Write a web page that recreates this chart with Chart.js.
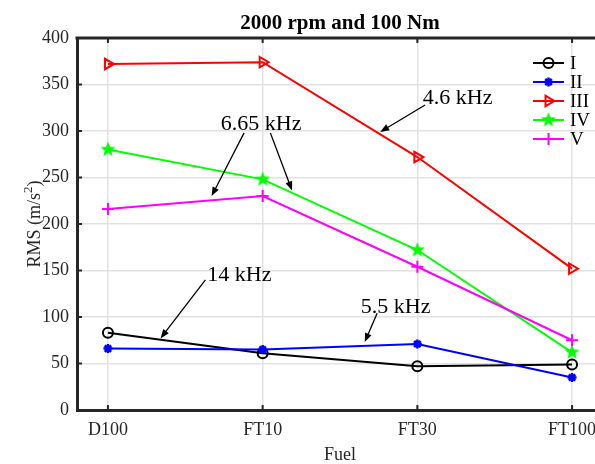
<!DOCTYPE html>
<html>
<head>
<meta charset="utf-8">
<script src="https://cdn.jsdelivr.net/npm/chart.js@4"></script>
<style>
    html, body { margin: 0; padding: 0; background: #fff; overflow: hidden; }
    #wrap { width: 615px; height: 464px; }
</style>
</head>
<body>
<div id="wrap"><canvas id="rmsChart" width="615" height="464"></canvas></div>
<script>
// data
const fuels = ['D100', 'FT10', 'FT30', 'FT100'];
const seriesNames = ['I', 'II', 'III', 'IV', 'V'];
const rmsI = [83, 61, 47, 49];
const rmsII = [66, 65, 71, 35];
const rmsIII = [372, 374, 272, 152];
const rmsIV = [280, 248, 172, 62];
const rmsV = [216, 230, 154, 75];
const yTicks = [0, 50, 100, 150, 200, 250, 300, 350, 400];

// annotations: label, text position, arrows [from, to] in data units
const notes = [
    { text: '4.6 kHz', at: [3.26, 335], arrows: [[[3.05, 328], [2.76, 299]]] },
    { text: '6.65 kHz', at: [1.99, 307], arrows: [[[1.88, 298], [1.67, 230]], [[2.05, 298], [2.19, 236]]] },
    { text: '14 kHz', at: [1.85, 145], arrows: [[[1.63, 140], [1.34, 77]]] },
    { text: '5.5 kHz', at: [2.86, 111], arrows: [[[2.74, 104], [2.66, 73]]] }
];

const serif = "'Liberation Serif', 'Times New Roman', serif";
const axisColor = '#262626';

// filled pentagram marker (MATLAB 'p')
function pentagram(color, r) {
    const c = document.createElement('canvas');
    const s = Math.ceil(r * 2 + 2);
    c.width = s; c.height = s;
    const g = c.getContext('2d');
    g.beginPath();
    for (let i = 0; i < 10; i++) {
        const rad = i % 2 === 0 ? r : r * 0.42;
        const a = -Math.PI / 2 + i * Math.PI / 5;
        const px = s / 2 + rad * Math.cos(a), py = s / 2 + rad * Math.sin(a);
        if (i === 0) g.moveTo(px, py); else g.lineTo(px, py);
    }
    g.closePath();
    g.fillStyle = color;
    g.fill();
    return c;
}

function toPoints(arr) {
    return arr.map((v, i) => ({ x: i + 1, y: v }));
}

const styles = [
    { color: '#000000', pointStyle: 'circle', radius: 5, bw: 2, fill: 'rgba(0,0,0,0)', rot: 0 },
    { color: '#0000ff', pointStyle: 'star', radius: 4.5, bw: 2.5, fill: '#0000ff', rot: 0 },
    { color: '#ff0000', pointStyle: 'triangle', radius: 6, bw: 2, fill: 'rgba(0,0,0,0)', rot: 90 },
    { color: '#00ff00', pointStyle: pentagram('#00ff00', 8), radius: 8, bw: 1, fill: '#00ff00', rot: 0 },
    { color: '#ff00ff', pointStyle: 'cross', radius: 6, bw: 2, fill: '#ff00ff', rot: 0 }
];
const allSeries = [rmsI, rmsII, rmsIII, rmsIV, rmsV];

const datasets = allSeries.map((arr, i) => ({
    label: seriesNames[i],
    data: toPoints(arr),
    borderColor: styles[i].color,
    backgroundColor: styles[i].fill,
    borderWidth: 2,
    pointStyle: styles[i].pointStyle,
    pointRadius: styles[i].radius,
    pointRotation: styles[i].rot,
    pointBorderWidth: styles[i].bw,
    pointBorderColor: styles[i].color,
    pointBackgroundColor: styles[i].fill,
    tension: 0,
    fill: false,
    order: allSeries.length - i
}));

// frame, inward ticks, titles, legend and arrows
const matlabLook = {
    id: 'matlabLook',
    afterDraw(chart) {
        const { ctx, chartArea: a, scales } = chart;
        const xs = scales.x, ys = scales.y;
        ctx.save();

        // top border and inward ticks
        ctx.strokeStyle = axisColor;
        ctx.lineWidth = 3;
        ctx.beginPath();
        ctx.moveTo(a.left - 1.5, a.top);
        ctx.lineTo(a.right, a.top);
        ctx.stroke();
        ctx.lineWidth = 2;
        ctx.beginPath();
        fuels.forEach((f, i) => {
            const px = xs.getPixelForValue(i + 1);
            ctx.moveTo(px, a.bottom); ctx.lineTo(px, a.bottom - 5);
            ctx.moveTo(px, a.top); ctx.lineTo(px, a.top + 5);
        });
        yTicks.forEach(v => {
            const py = ys.getPixelForValue(v);
            ctx.moveTo(a.left, py); ctx.lineTo(a.left + 5, py);
        });
        ctx.stroke();

        // title
        ctx.fillStyle = '#000';
        ctx.font = 'bold 21px ' + serif;
        ctx.textAlign = 'center';
        ctx.textBaseline = 'alphabetic';
        ctx.fillText('2000 rpm and 100 Nm', (a.left + a.right) / 2, 29);

        // y title with a real superscript
        ctx.save();
        ctx.translate(40, (a.top + a.bottom) / 2);
        ctx.rotate(-Math.PI / 2);
        ctx.fillStyle = axisColor;
        ctx.font = '18px ' + serif;
        ctx.textAlign = 'left';
        const main = 'RMS (m/s', sup = '2', tail = ')';
        const wMain = ctx.measureText(main).width;
        ctx.font = '13px ' + serif;
        const wSup = ctx.measureText(sup).width;
        ctx.font = '18px ' + serif;
        const wTail = ctx.measureText(tail).width;
        let tx = -(wMain + wSup + wTail) / 2;
        ctx.fillText(main, tx, 0);
        ctx.font = '13px ' + serif;
        ctx.fillText(sup, tx + wMain, -8);
        ctx.font = '18px ' + serif;
        ctx.fillText(tail, tx + wMain + wSup, 0);
        ctx.restore();

        // annotations
        ctx.font = '22px ' + serif;
        ctx.textAlign = 'center';
        ctx.textBaseline = 'middle';
        notes.forEach(n => {
            ctx.fillStyle = '#000';
            ctx.fillText(n.text, xs.getPixelForValue(n.at[0]), ys.getPixelForValue(n.at[1]));
            n.arrows.forEach(([p0, p1]) => {
                const x0 = xs.getPixelForValue(p0[0]), y0 = ys.getPixelForValue(p0[1]);
                const x1 = xs.getPixelForValue(p1[0]), y1 = ys.getPixelForValue(p1[1]);
                const ang = Math.atan2(y1 - y0, x1 - x0);
                const hl = 9, hw = 3.5;
                ctx.strokeStyle = '#000';
                ctx.lineWidth = 1.3;
                ctx.beginPath();
                ctx.moveTo(x0, y0);
                ctx.lineTo(x1 - hl * 0.8 * Math.cos(ang), y1 - hl * 0.8 * Math.sin(ang));
                ctx.stroke();
                ctx.beginPath();
                ctx.moveTo(x1, y1);
                ctx.lineTo(x1 - hl * Math.cos(ang) + hw * Math.sin(ang), y1 - hl * Math.sin(ang) - hw * Math.cos(ang));
                ctx.lineTo(x1 - hl * Math.cos(ang) - hw * Math.sin(ang), y1 - hl * Math.sin(ang) + hw * Math.cos(ang));
                ctx.closePath();
                ctx.fillStyle = '#000';
                ctx.fill();
            });
        });

        // legend
        ctx.font = '19px ' + serif;
        ctx.textAlign = 'left';
        seriesNames.forEach((name, i) => {
            const st = styles[i];
            const ly = 63 + i * 19;
            ctx.strokeStyle = st.color;
            ctx.lineWidth = 2;
            ctx.beginPath();
            ctx.moveTo(533, ly); ctx.lineTo(564, ly);
            ctx.stroke();
            ctx.fillStyle = st.fill;
            ctx.lineWidth = st.bw;
            Chart.helpers.drawPoint(ctx, {
                pointStyle: st.pointStyle, radius: st.radius, rotation: st.rot, borderWidth: st.bw
            }, 548.5, ly);
            ctx.fillStyle = '#000';
            ctx.fillText(name, 570, ly + 1);
        });
        ctx.restore();
    }
};

const ctx = document.getElementById('rmsChart').getContext('2d');
new Chart(ctx, {
    type: 'line',
    data: { datasets: datasets },
    options: {
        responsive: false,
        animation: false,
        layout: { padding: { top: 38, right: 12, left: 0, bottom: 0 } },
        plugins: {
            legend: { display: false },
            tooltip: { enabled: false },
            title: { display: false }
        },
        scales: {
            x: {
                type: 'linear',
                min: 0.8,
                max: 4.2,
                afterFit: s => { s.height = 54; },
                grid: { color: '#e2e2e2', lineWidth: 1.5, drawTicks: false },
                border: { color: axisColor, width: 3 },
                ticks: {
                    stepSize: 1,
                    includeBounds: false,
                    autoSkip: false,
                    maxRotation: 0,
                    padding: 9,
                    color: axisColor,
                    font: { family: serif, size: 18 },
                    callback: v => fuels[v - 1] || ''
                },
                title: {
                    display: true,
                    text: 'Fuel',
                    color: axisColor,
                    font: { family: serif, size: 18, lineHeight: 1 },
                    padding: { top: 0, bottom: 0 }
                }
            },
            y: {
                min: 0,
                max: 400,
                afterFit: s => { s.width = 77; },
                grid: { color: '#e2e2e2', lineWidth: 1.5, drawTicks: false },
                border: { color: axisColor, width: 3 },
                ticks: {
                    stepSize: 50,
                    padding: 8,
                    color: axisColor,
                    font: { family: serif, size: 18 }
                }
            }
        }
    },
    plugins: [matlabLook]
});
</script>
</body>
</html>
